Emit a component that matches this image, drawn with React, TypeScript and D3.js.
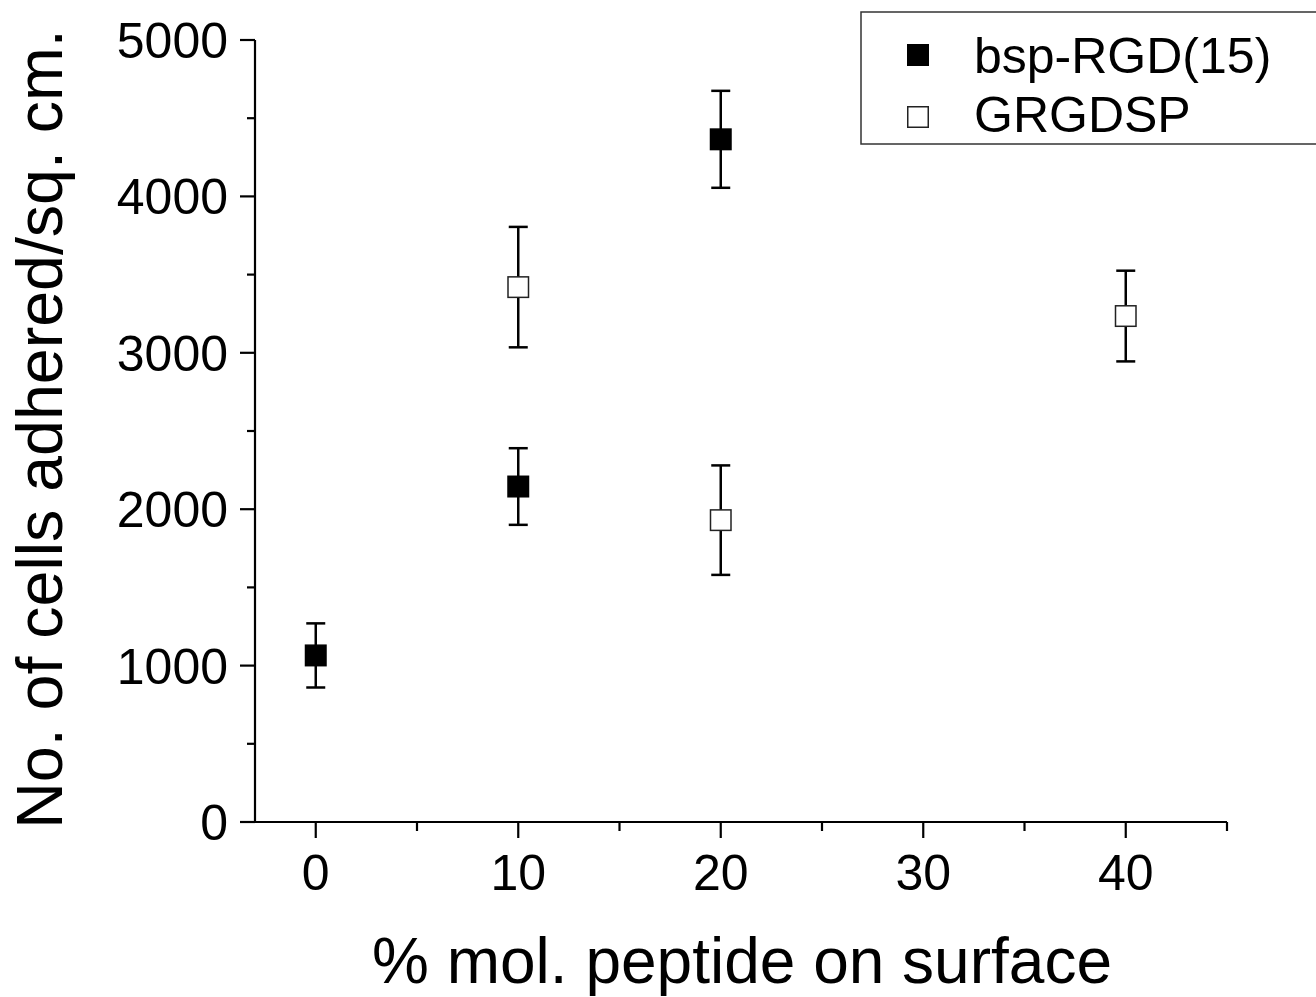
import React from "react";
import * as d3 from "d3";

const seriesNames = ["bsp-RGD(15)", "GRGDSP"];
const bspX = [0, 10, 20];
const bspY = [1065, 2145, 4365];
const bspErr = [205, 245, 310];
const grgX = [10, 20, 40];
const grgY = [3420, 1930, 3235];
const grgErr = [385, 350, 290];
const xMajorTicks = [0, 10, 20, 30, 40];
const xMinorTicks = [5, 15, 25, 35, 45];
const yMajorTicks = [0, 1000, 2000, 3000, 4000, 5000];
const yMinorTicks = [500, 1500, 2500, 3500, 4500];

const W = 1316;
const H = 997;
const FONT = "'Liberation Sans', Arial, sans-serif";

export default function App() {
  const x = d3.scaleLinear().domain([-3, 45]).range([255, 1227]);
  const y = d3.scaleLinear().domain([0, 5000]).range([822, 40]);
  const ms = 22;
  const cap = 19;

  const series = [
    { xs: bspX, ys: bspY, es: bspErr, fill: "#000", stroke: "#000" },
    { xs: grgX, ys: grgY, es: grgErr, fill: "#fff", stroke: "#222" },
  ];

  return (
    <svg width={W} height={H} style={{ position: "absolute", left: 0, top: 0 }} fontFamily={FONT}>
      <rect x={0} y={0} width={W} height={H} fill="#fff" />
      {/* axes */}
      <line x1={x(-3)} x2={x(-3)} y1={y(5000)} y2={y(0)} stroke="#000" strokeWidth={2.2} />
      <line x1={x(-3)} x2={x(45)} y1={y(0)} y2={y(0)} stroke="#000" strokeWidth={2.2} />
      {yMajorTicks.map((t) => (
        <g key={"ym" + t}>
          <line x1={x(-3) - 15} x2={x(-3)} y1={y(t)} y2={y(t)} stroke="#000" strokeWidth={2.2} />
          <text x={x(-3) - 27} y={y(t)} dy="0.36em" textAnchor="end" fontSize={50}>
            {t}
          </text>
        </g>
      ))}
      {yMinorTicks.map((t) => (
        <line key={"yn" + t} x1={x(-3) - 8} x2={x(-3)} y1={y(t)} y2={y(t)} stroke="#000" strokeWidth={2.2} />
      ))}
      {xMajorTicks.map((t) => (
        <g key={"xm" + t}>
          <line x1={x(t)} x2={x(t)} y1={y(0)} y2={y(0) + 16} stroke="#000" strokeWidth={2.2} />
          <text x={x(t)} y={890} textAnchor="middle" fontSize={50}>
            {t}
          </text>
        </g>
      ))}
      {xMinorTicks.map((t) => (
        <line key={"xn" + t} x1={x(t)} x2={x(t)} y1={y(0)} y2={y(0) + 9} stroke="#000" strokeWidth={2.2} />
      ))}
      {/* titles */}
      <text x={742} y={983} textAnchor="middle" fontSize={64}>
        % mol. peptide on surface
      </text>
      <text transform={`translate(62, 429) rotate(-90)`} textAnchor="middle" fontSize={64.5}>
        No. of cells adhered/sq. cm.
      </text>
      {/* data */}
      {series.map((s, si) => (
        <g key={"s" + si}>
          {s.xs.map((xv, i) => (
            <g key={i}>
              <line x1={x(xv)} x2={x(xv)} y1={y(s.ys[i] + s.es[i])} y2={y(s.ys[i] - s.es[i])} stroke="#000" strokeWidth={2.5} />
              <line x1={x(xv) - cap / 2} x2={x(xv) + cap / 2} y1={y(s.ys[i] + s.es[i])} y2={y(s.ys[i] + s.es[i])} stroke="#000" strokeWidth={2.5} />
              <line x1={x(xv) - cap / 2} x2={x(xv) + cap / 2} y1={y(s.ys[i] - s.es[i])} y2={y(s.ys[i] - s.es[i])} stroke="#000" strokeWidth={2.5} />
              <rect
                x={x(xv) - ms / 2 + 0.75}
                y={y(s.ys[i]) - ms / 2 + 0.75}
                width={ms - 1.5}
                height={ms - 1.5}
                fill={s.fill}
                stroke={s.stroke}
                strokeWidth={1.5}
              />
            </g>
          ))}
        </g>
      ))}
      {/* legend */}
      <rect x={861} y={12} width={470} height={132} fill="#fff" stroke="#333" strokeWidth={1.5} />
      {seriesNames.map((n, i) => (
        <g key={"l" + i}>
          <rect
            x={918 - ms / 2 + 0.75}
            y={(i === 0 ? 55 : 117) - ms / 2 + 0.75}
            width={ms - 1.5}
            height={ms - 1.5}
            fill={series[i].fill}
            stroke={series[i].stroke}
            strokeWidth={1.5}
          />
          <text x={974} y={i === 0 ? 73 : 132} fontSize={50}>
            {n}
          </text>
        </g>
      ))}
    </svg>
  );
}
